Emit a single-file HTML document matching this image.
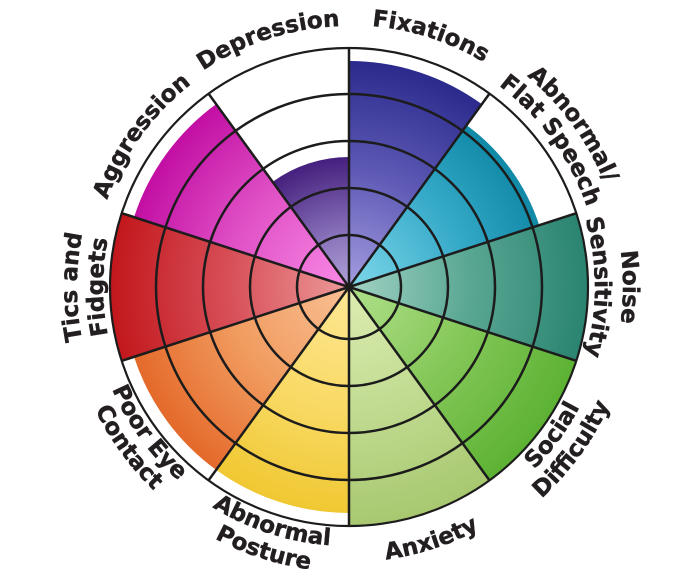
<!DOCTYPE html>
<html>
<head>
<meta charset="utf-8">
<style>
  html,body{margin:0;padding:0;background:#fff;}
  svg{display:block;}
  .lbl{font-family:"DejaVu Sans","Liberation Sans",sans-serif;font-weight:bold;font-size:23px;fill:#231f20;stroke:#231f20;stroke-width:0.45px;}
</style>
</head>
<body>
<svg width="700" height="574" viewBox="0 0 700 574" xmlns="http://www.w3.org/2000/svg">
  <defs>
    <radialGradient id="gFix" gradientUnits="userSpaceOnUse" cx="349" cy="287" r="239">
      <stop offset="0" stop-color="#a49de0"/><stop offset="0.5" stop-color="#5c58b4"/><stop offset="0.95" stop-color="#2b2a8c"/>
    </radialGradient>
    <radialGradient id="gSpe" gradientUnits="userSpaceOnUse" cx="349" cy="287" r="239">
      <stop offset="0" stop-color="#7fd8ea"/><stop offset="0.5" stop-color="#35a9c8"/><stop offset="0.85" stop-color="#0f88a6"/>
    </radialGradient>
    <radialGradient id="gNoi" gradientUnits="userSpaceOnUse" cx="349" cy="287" r="239">
      <stop offset="0" stop-color="#a2d2c4"/><stop offset="0.5" stop-color="#5aa894"/><stop offset="1" stop-color="#2a8470"/>
    </radialGradient>
    <radialGradient id="gSoc" gradientUnits="userSpaceOnUse" cx="349" cy="287" r="239">
      <stop offset="0" stop-color="#b0e08a"/><stop offset="0.5" stop-color="#86c85a"/><stop offset="1" stop-color="#5cb233"/>
    </radialGradient>
    <radialGradient id="gAnx" gradientUnits="userSpaceOnUse" cx="349" cy="287" r="239">
      <stop offset="0" stop-color="#ddedb2"/><stop offset="0.5" stop-color="#c2dc92"/><stop offset="1" stop-color="#a8c870"/>
    </radialGradient>
    <radialGradient id="gPos" gradientUnits="userSpaceOnUse" cx="349" cy="287" r="239">
      <stop offset="0" stop-color="#fee794"/><stop offset="0.5" stop-color="#f9da66"/><stop offset="0.95" stop-color="#f0c832"/>
    </radialGradient>
    <radialGradient id="gEye" gradientUnits="userSpaceOnUse" cx="349" cy="287" r="239">
      <stop offset="0" stop-color="#f9c094"/><stop offset="0.5" stop-color="#f19c60"/><stop offset="0.95" stop-color="#e4692a"/>
    </radialGradient>
    <radialGradient id="gTic" gradientUnits="userSpaceOnUse" cx="349" cy="287" r="239">
      <stop offset="0" stop-color="#ec9a9a"/><stop offset="0.5" stop-color="#d85059"/><stop offset="1" stop-color="#c2171c"/>
    </radialGradient>
    <radialGradient id="gAgg" gradientUnits="userSpaceOnUse" cx="349" cy="287" r="239">
      <stop offset="0" stop-color="#f98ae6"/><stop offset="0.5" stop-color="#e052c6"/><stop offset="0.95" stop-color="#c20ea3"/>
    </radialGradient>
    <radialGradient id="gDep" gradientUnits="userSpaceOnUse" cx="349" cy="287" r="239">
      <stop offset="0" stop-color="#b0a2d6"/><stop offset="0.22" stop-color="#8a74bc"/><stop offset="0.54" stop-color="#46207e"/>
    </radialGradient>

    <path id="pFix" d="M173.7,92.3 A262,262 0 0 1 605.3,232.5"/>
    <path id="pDep" d="M93.7,232.7 A261,261 0 0 1 523.6,93.1"/>
    <path id="pAgg" d="M114.2,391.5 A257,257 0 0 1 375.9,31.4"/>
    <path id="pAbn1" d="M320.2,12.5 A276,276 0 0 1 601.1,399.3"/>
    <path id="pAbn2" d="M322.8,37.4 A251,251 0 0 1 578.3,389.1"/>
    <path id="pNoi1" d="M486,49.7 A274,274 0 0 1 486,524.3"/>
    <path id="pNoi2" d="M472,74 A246,246 0 0 1 472,500"/>
    <path id="pTic1" d="M213,522.6 A272,272 0 0 1 213,51.4"/>
    <path id="pTic2" d="M226,500 A246,246 0 0 1 226,74"/>
    <path id="pAnx" d="M165,491.4 A275,275 0 0 0 618,344.2"/>
    <path id="pSoc1" d="M321.8,545.6 A260,260 0 0 0 586.5,181.3"/>
    <path id="pSoc2" d="M319.1,571.4 A286,286 0 0 0 610.3,170.7"/>
    <path id="pPos1" d="M95.7,340.8 A259,259 0 0 0 522.3,479.5"/>
    <path id="pPos2" d="M70.2,346.3 A285,285 0 0 0 539.7,498.8"/>
    <path id="pEye1" d="M113.3,182.1 A258,258 0 0 0 376,543.6"/>
    <path id="pEye2" d="M91.4,172.3 A282,282 0 0 0 378.5,567.4"/>
  </defs>

  <rect width="700" height="574" fill="#fff"/>

  <path d="M349,287 L349,61 A226,226 0 0 1 481.84,104.17 Z" fill="url(#gFix)"/>
  <path d="M349,287 L466.56,125.2 A200,200 0 0 1 539.22,225.2 Z" fill="url(#gSpe)"/>
  <path d="M349,287 L576.31,213.15 A239,239 0 0 1 576.31,360.85 Z" fill="url(#gNoi)"/>
  <path d="M349,287 L576.31,360.85 A239,239 0 0 1 489.48,480.35 Z" fill="url(#gSoc)"/>
  <path d="M349,287 L489.48,480.35 A239,239 0 0 1 349,526 Z" fill="url(#gAnx)"/>
  <path d="M349,287 L349,513 A226,226 0 0 1 216.16,469.83 Z" fill="url(#gPos)"/>
  <path d="M349,287 L216.16,469.83 A226,226 0 0 1 134.05,356.83 Z" fill="url(#gEye)"/>
  <path d="M349,287 L121.69,360.85 A239,239 0 0 1 121.69,213.15 Z" fill="url(#gTic)"/>
  <path d="M349,287 L134.05,217.17 A226,226 0 0 1 216.16,104.17 Z" fill="url(#gAgg)"/>
  <path d="M349,287 L272.59,181.83 A130,130 0 0 1 349,157 Z" fill="url(#gDep)"/>

  <g fill="none" stroke="#1c1c1c" stroke-width="2.5">
    <circle cx="349" cy="287" r="52"/>
    <circle cx="349" cy="287" r="99"/>
    <circle cx="349" cy="287" r="146"/>
    <circle cx="349" cy="287" r="193"/>
  </g>
  <circle cx="349" cy="287" r="239" fill="none" stroke="#1c1c1c" stroke-width="2.2"/>

  <g stroke="#1c1c1c" stroke-width="2.5" stroke-linecap="butt">
    <line x1="349" y1="287" x2="349" y2="48"/>
    <line x1="349" y1="287" x2="489.48" y2="93.65"/>
    <line x1="349" y1="287" x2="576.31" y2="213.15"/>
    <line x1="349" y1="287" x2="576.31" y2="360.85"/>
    <line x1="349" y1="287" x2="489.48" y2="480.35"/>
    <line x1="349" y1="287" x2="349" y2="526"/>
    <line x1="349" y1="287" x2="208.52" y2="480.35"/>
    <line x1="349" y1="287" x2="121.69" y2="360.85"/>
    <line x1="349" y1="287" x2="121.69" y2="213.15"/>
    <line x1="349" y1="287" x2="208.52" y2="93.65"/>
  </g>
  <circle cx="349" cy="287" r="3" fill="#1c1c1c"/>

  <text class="lbl"><textPath href="#pFix" startOffset="50%" text-anchor="middle">Fixations</textPath></text>
  <text class="lbl"><textPath href="#pDep" startOffset="50%" text-anchor="middle">Depression</textPath></text>
  <text class="lbl"><textPath href="#pAgg" startOffset="50%" text-anchor="middle">Aggression</textPath></text>
  <text class="lbl"><textPath href="#pAbn1" startOffset="50%" text-anchor="middle">Abnormal/</textPath></text>
  <text class="lbl"><textPath href="#pAbn2" startOffset="50%" text-anchor="middle">Flat Speech</textPath></text>
  <text class="lbl"><textPath href="#pNoi1" startOffset="50%" text-anchor="middle">Noise</textPath></text>
  <text class="lbl"><textPath href="#pNoi2" startOffset="50%" text-anchor="middle">Sensitivity</textPath></text>
  <text class="lbl"><textPath href="#pTic1" startOffset="50%" text-anchor="middle">Tics and</textPath></text>
  <text class="lbl"><textPath href="#pTic2" startOffset="50%" text-anchor="middle">Fidgets</textPath></text>
  <text class="lbl"><textPath href="#pAnx" startOffset="50%" text-anchor="middle">Anxiety</textPath></text>
  <text class="lbl"><textPath href="#pSoc1" startOffset="50%" text-anchor="middle">Social</textPath></text>
  <text class="lbl"><textPath href="#pSoc2" startOffset="50%" text-anchor="middle">Difficulty</textPath></text>
  <text class="lbl"><textPath href="#pPos1" startOffset="50%" text-anchor="middle">Abnormal</textPath></text>
  <text class="lbl"><textPath href="#pPos2" startOffset="50%" text-anchor="middle">Posture</textPath></text>
  <text class="lbl"><textPath href="#pEye1" startOffset="50%" text-anchor="middle">Poor Eye</textPath></text>
  <text class="lbl"><textPath href="#pEye2" startOffset="50%" text-anchor="middle">Contact</textPath></text>
</svg>
</body>
</html>
